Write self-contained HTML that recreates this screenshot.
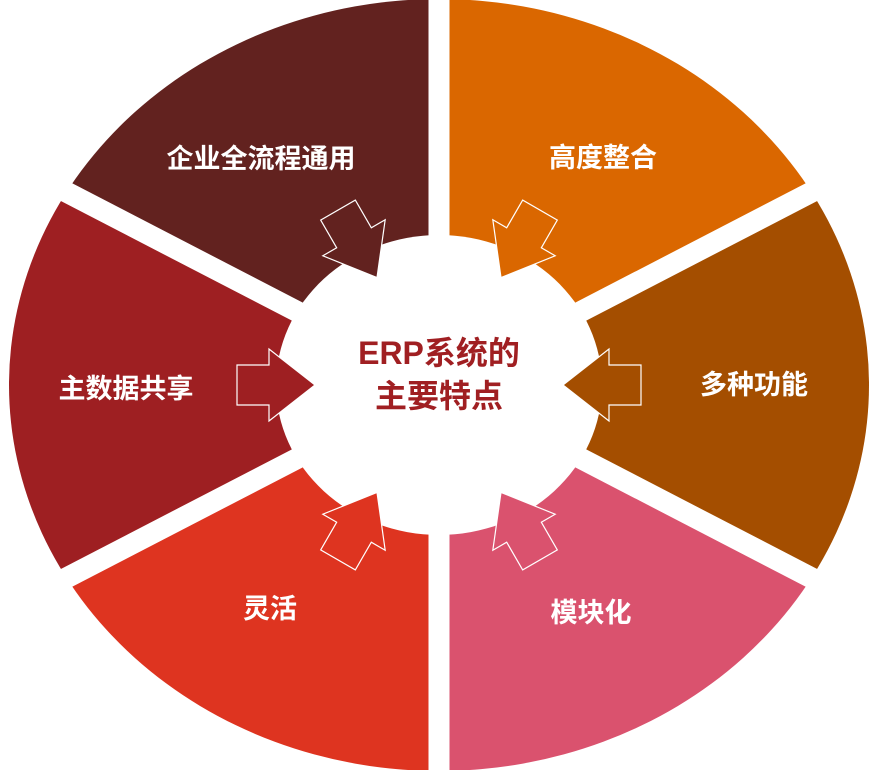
<!DOCTYPE html>
<html><head><meta charset="utf-8"><style>
html,body{margin:0;padding:0;background:#fff;width:884px;height:770px;overflow:hidden;}
svg{display:block;overflow:hidden;}
text{font-family:"Liberation Sans","Noto Sans CJK SC",sans-serif;font-weight:bold;}
</style></head><body>
<svg width="884" height="770" viewBox="0 0 884 770" xmlns="http://www.w3.org/2000/svg">
<defs>
  <clipPath id="el"><ellipse cx="439" cy="385" rx="430" ry="386"/></clipPath>
</defs>
<g clip-path="url(#el)">
  <polygon points="439,385 439,-615 1339,-81" fill="#DA6700"/>
  <polygon points="439,385 1339,-81 1339,851" fill="#A44E00"/>
  <polygon points="439,385 1339,851 439,1385" fill="#DA526E"/>
  <polygon points="439,385 439,1385 -461,851" fill="#DE3420"/>
  <polygon points="439,385 -461,851 -461,-81" fill="#9E1F22"/>
  <polygon points="439,385 -461,-81 439,-615" fill="#62221F"/>
</g>
<g stroke="#fff" stroke-width="21">
  <line x1="439" y1="-50" x2="439" y2="820"/>
  <line x1="-461" y1="-81" x2="1339" y2="851"/>
  <line x1="-461" y1="851" x2="1339" y2="-81"/>
</g>
<ellipse cx="439" cy="385" rx="163" ry="150" fill="#fff"/>
<g transform="translate(439,385)" stroke="#fff" stroke-width="1.2">
  <polygon transform="rotate(0)" points="-202,-20 -170,-20 -170,-36 -124,0 -170,36 -170,20 -202,20" fill="#9E1F22"/>
  <polygon transform="rotate(180)" points="-202,-20 -170,-20 -170,-36 -124,0 -170,36 -170,20 -202,20" fill="#A44E00"/>
  <polygon transform="rotate(60)" points="-202,-20 -170,-20 -170,-36 -124,0 -170,36 -170,20 -202,20" fill="#62221F"/>
  <polygon transform="rotate(120)" points="-202,-20 -170,-20 -170,-36 -124,0 -170,36 -170,20 -202,20" fill="#DA6700"/>
  <polygon transform="rotate(-60)" points="-202,-20 -170,-20 -170,-36 -124,0 -170,36 -170,20 -202,20" fill="#DE3420"/>
  <polygon transform="rotate(-120)" points="-202,-20 -170,-20 -170,-36 -124,0 -170,36 -170,20 -202,20" fill="#DA526E"/>
</g>
<g fill="#fff" font-size="27" text-anchor="middle">
  <text x="261" y="168">企业全流程通用</text>
  <text x="603" y="167">高度整合</text>
  <text x="754" y="394">多种功能</text>
  <text x="591" y="622">模块化</text>
  <text x="270" y="618">灵活</text>
  <text x="126" y="398">主数据共享</text>
</g>
<g fill="#A01F22" font-size="32" text-anchor="middle">
  <text x="439" y="364">ERP系统的</text>
  <text x="439" y="407">主要特点</text>
</g>
</svg>
</body></html>
